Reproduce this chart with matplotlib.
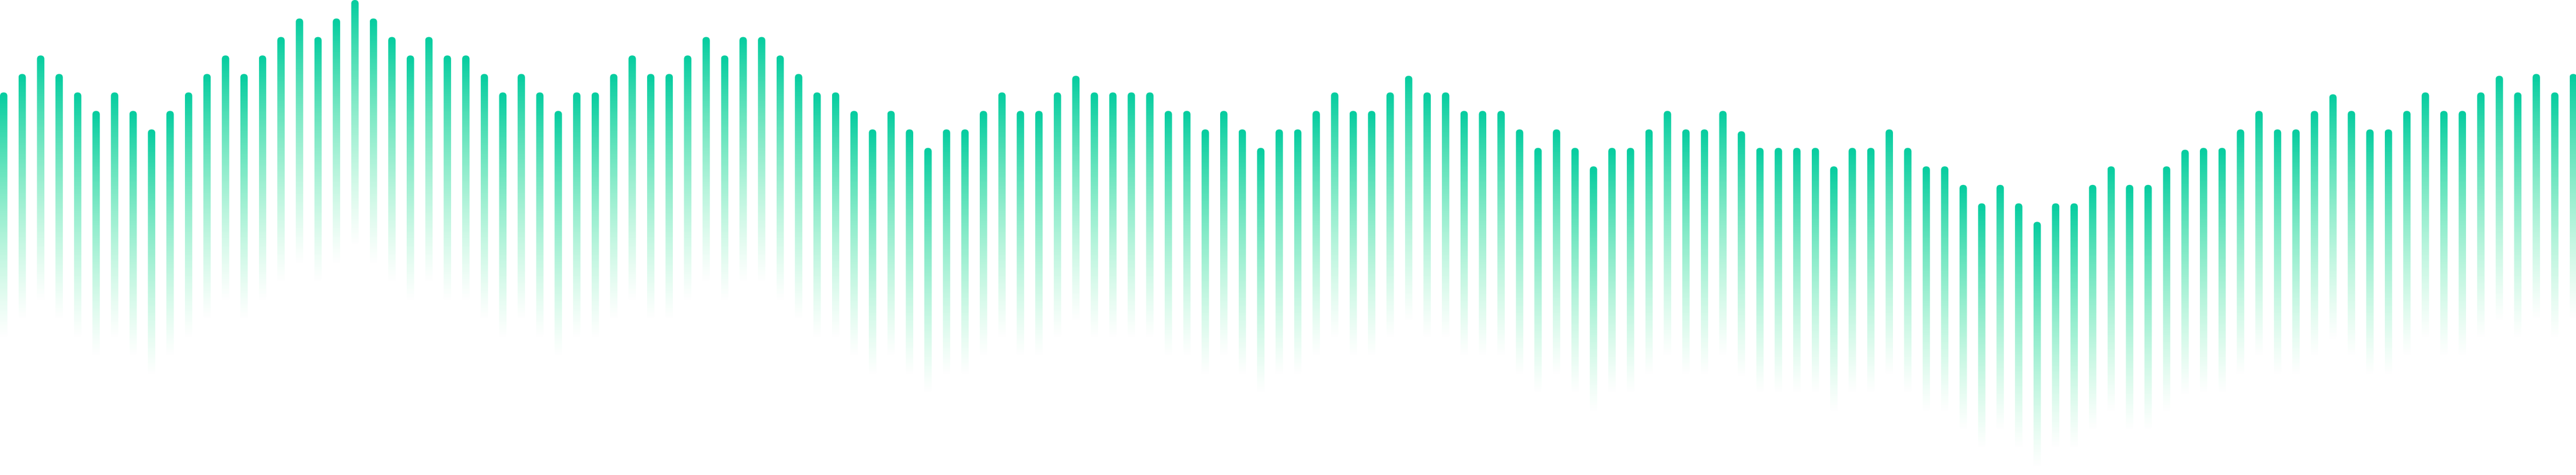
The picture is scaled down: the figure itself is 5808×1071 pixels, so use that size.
import numpy as np
import matplotlib
matplotlib.use("Agg")
import matplotlib.pyplot as plt
from matplotlib.patches import FancyBboxPatch

# bar heights (top of each rounded bar), one per column
heights = [
    8, 9, 10, 9, 8, 7, 8, 7, 6, 7, 8, 9, 10, 9, 10, 11, 12, 11, 12, 13, 12, 11, 10, 11,
    10, 10, 9, 8, 9, 8, 7, 8, 8, 9, 10, 9, 9, 10, 11, 10, 11, 11, 10, 9, 8, 8, 7, 6,
    7, 6, 5, 6, 6, 7, 8, 7, 7, 8, 8.9, 8, 8, 8, 8, 7, 7, 6, 7, 6, 5, 6, 6,
    7, 8, 7, 7, 8, 8.9, 8, 8, 7, 7, 7, 6, 5, 6, 5, 4, 5, 5, 6, 7, 6, 6, 7, 5.9,
    5, 5, 5, 5, 4, 5, 5, 6, 5, 4, 4, 3, 2, 3, 2, 1, 2, 2, 3, 4, 3, 3, 4,
    4.9, 5, 5, 6, 7, 6, 6, 7, 7.9, 7, 6, 6, 7, 8, 7, 7, 8, 8.9, 8, 9, 8, 9,
]

top_color = np.array([4, 205, 160]) / 255
end_color = np.array([70, 236, 150]) / 255
bar_w = 0.4
fade_len = 13.34

fig = plt.figure(figsize=(58.08, 10.71), dpi=100)
ax = fig.add_axes([0, 0, 1, 1])
ax.set_xlim(0, 5808 / 41.68)
ax.set_ylim(13 - 1071 / 41.68, 13)
ax.axis("off")

# vertical gradient, opaque teal at the top fading out downwards
t = np.linspace(0, 1, 256)[:, None]
grad = np.zeros((256, 1, 4))
grad[..., :3] = (top_color * (1 - t) + end_color * t)[:, None, :]
grad[..., 3] = (1 - t) ** 1.1

for i, h in enumerate(heights):
    x0 = i
    im = ax.imshow(grad, extent=(x0, x0 + bar_w, h - fade_len, h),
                   aspect="auto", interpolation="bilinear", origin="upper")
    clip = FancyBboxPatch((x0, h - fade_len), bar_w, fade_len,
                          boxstyle="round,pad=0,rounding_size=0.2",
                          transform=ax.transData, facecolor="none", edgecolor="none")
    ax.add_patch(clip)
    im.set_clip_path(clip)

fig.savefig("out.png", dpi=100)
